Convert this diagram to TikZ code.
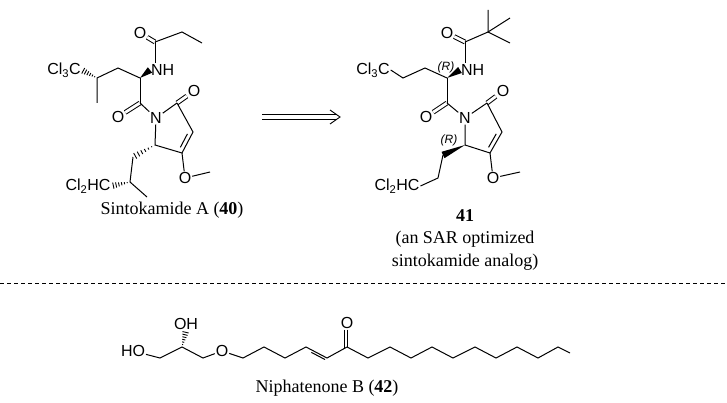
\documentclass[tikz,border=0pt]{standalone}
\usepackage{fontspec}
\setmainfont{Liberation Serif}
\newfontfamily\atomfont{Liberation Sans}
\usetikzlibrary{calc}
\tikzset{
  atom/.style={font=\atomfont\fontsize{16}{16}\selectfont,inner sep=0.8pt},
  stereo/.style={font=\atomfont\itshape\fontsize{12}{12}\selectfont,inner sep=0pt},
  molcap/.style={font=\fontsize{18}{22}\selectfont,align=center},
  bond/.style={line width=1pt},
  dbl/.style={line width=1pt,double,double distance=2.8pt}
}
\newcommand{\hashb}[2]{\foreach \t in {0.15,0.3,...,0.95}{\path ($(#1)!\t!(#2)$) coordinate (hm);\draw[line width=0.9pt] ($(hm)!{\t*3.5pt}!90:(#2)$) -- ($(hm)!{\t*3.5pt}!-90:(#2)$);}}
\newcommand{\wedgeb}[2]{\fill (#1) -- ($(#2)!3.5pt!90:(#1)$) -- ($(#2)!3.5pt!-90:(#1)$) -- cycle;}
\begin{document}
\begin{tikzpicture}[x=1pt,y=-1pt]
\useasboundingbox (0,0) rectangle (727,403);
% ===== left: sintokamide A
\node[atom] (aO1) at (140,33) {O};
\coordinate (aC1) at (155,42); \coordinate (aC2) at (182,32); \coordinate (aC3) at (202,43);
\node[atom,anchor=west] (aNH) at (150,70) {NH};
\coordinate (aCa) at (140,78); \coordinate (aCb) at (118,68); \coordinate (aCc) at (97,78); \coordinate (aMe1) at (97,103);
\node[atom] (aCl3) at (64,70) {Cl\textsubscript{3}C};
\coordinate (aCd) at (140,103);
\node[atom] (aO2) at (118,117) {O};
\node[atom] (aN) at (156,118) {N};
\coordinate (aCe) at (177,103);
\node[atom] (aO3) at (194,91) {O};
\coordinate (aCf) at (193,132); \coordinate (aCg) at (182,153); \coordinate (aCh) at (155,145);
\node[atom] (aO4) at (185,178) {O};
\coordinate (aMe2) at (210,172);
\coordinate (aCi) at (133,157); \coordinate (aCj) at (130,182); \coordinate (aMe3) at (147,197);
\node[atom] (aCl2) at (88,186) {Cl\textsubscript{2}HC};
\draw[dbl] (aO1) -- (aC1);
\draw[bond] (aC1) -- (aC2) -- (aC3);
\draw[bond] (aC1) -- (aC1 |- aNH.north);
\wedgeb{aCa}{aNH.west}
\draw[bond] (aCa) -- (aCb) -- (aCc) -- (aMe1);
\hashb{aCc}{aCl3.east}
\draw[bond] (aCa) -- (aCd);
\draw[dbl] (aCd) -- (aO2);
\draw[bond] (aCd) -- (aN) -- (aCe);
\draw[dbl] (aCe) -- (aO3);
\draw[bond] (aCe) -- (aCf) -- (aCg) -- (aCh) -- (aN);
\draw[bond] ($(aCf)!0.18!(aCg)+(-3.6,-1.9)$) -- ($(aCf)!0.82!(aCg)+(-3.6,-1.9)$);
\draw[bond] (aCg) -- (aO4) -- (aMe2);
\hashb{aCh}{aCi}
\draw[bond] (aCi) -- (aCj) -- (aMe3);
\hashb{aCj}{aCl2.east}
\node[molcap] (acap) at (172,210) {Sintokamide A (\textbf{40})};
% ===== arrow
\coordinate (arA) at (262,117); \coordinate (arB) at (336,117);
\draw[line width=0.9pt,double,double distance=4pt] (arA) -- (arB);
\draw[line width=0.9pt] (330,110) -- (340,117) -- (330,124);
% ===== right: 41
\node[atom] (bO1) at (447,33) {O};
\coordinate (bC1) at (465,42); \coordinate (bC2) at (488,32);
\coordinate (bM1) at (488,10); \coordinate (bM2) at (510,18); \coordinate (bM3) at (510,43);
\node[atom,anchor=west] (bNH) at (460,70) {NH};
\node[stereo] (bR1) at (446,67) {(R)};
\coordinate (bCa) at (447,78); \coordinate (bCb) at (425,68); \coordinate (bCc) at (403,78);
\node[atom] (bCl3) at (373,70) {Cl\textsubscript{3}C};
\coordinate (bCd) at (447,103);
\node[atom] (bO2) at (426,117) {O};
\node[atom] (bN) at (465,118) {N};
\coordinate (bCe) at (487,103);
\node[atom] (bO3) at (503,91) {O};
\coordinate (bCf) at (502,132); \coordinate (bCg) at (490,153); \coordinate (bCh) at (465,145);
\node[stereo] (bR2) at (449,140) {(R)};
\node[atom] (bO4) at (493,178) {O};
\coordinate (bMe2) at (520,172);
\coordinate (bCi) at (443,155); \coordinate (bCj) at (438,178);
\node[atom] (bCl2) at (397,186) {Cl\textsubscript{2}HC};
\draw[dbl] (bO1) -- (bC1);
\draw[bond] (bC1) -- (bC2) -- (bM1); \draw[bond] (bC2) -- (bM2); \draw[bond] (bC2) -- (bM3);
\draw[bond] (bC1) -- (bC1 |- bNH.north);
\wedgeb{bCa}{bNH.west}
\draw[bond] (bCl3.east) -- (bCc) -- (bCb) -- (bCa);
\draw[bond] (bCa) -- (bCd);
\draw[dbl] (bCd) -- (bO2);
\draw[bond] (bCd) -- (bN) -- (bCe);
\draw[dbl] (bCe) -- (bO3);
\draw[bond] (bCe) -- (bCf) -- (bCg) -- (bCh) -- (bN);
\draw[bond] ($(bCf)!0.18!(bCg)+(-3.6,-1.9)$) -- ($(bCf)!0.82!(bCg)+(-3.6,-1.9)$);
\draw[bond] (bCg) -- (bO4) -- (bMe2);
\wedgeb{bCh}{bCi}
\draw[bond] (bCi) -- (bCj) -- (bCl2.east);
\node[molcap] (bcap) at (465,240) {\textbf{41}\\(an SAR optimized\\sintokamide analog)};
% ===== dashed separator
\coordinate (dL) at (0,283); \coordinate (dR) at (727,283);
\draw[line width=0.8pt,dash pattern=on 4pt off 3pt] (dL) -- (dR);
% ===== bottom: niphatenone B
\node[atom] (cHO) at (133,351) {HO};
\coordinate (c1) at (160,358); \coordinate (c2) at (182,347);
\node[atom] (cOH) at (186,324) {OH};
\coordinate (c3) at (203,358);
\node[atom] (cO) at (222,351) {O};
\coordinate (c4) at (243,358); \coordinate (c5) at (264,347); \coordinate (c6) at (285,358);
\coordinate (c7) at (306,347); \coordinate (c8) at (327,358); \coordinate (c9) at (347,347);
\node[atom] (cOk) at (347,323) {O};
\draw[bond] (cHO) -- (c1) -- (c2) -- (c3) -- (cO) -- (c4) -- (c5) -- (c6) -- (c7) -- (c8) -- (c9);
\hashb{c2}{cOH.south}
\draw[bond] ($(c7)!0.2!(c8)+(1.2,3.2)$) -- ($(c7)!0.85!(c8)+(1.2,3.2)$);
\draw[bond] (cOk.south) -- (c9);
\draw[bond] ($(cOk.south)+(-3,0)$) -- ($(c9)+(-3,1)$);
\foreach \i/\x/\y in {10/368/358,11/390/347,12/411/358,13/432/347,14/453/358,15/475/347,16/496/358,17/517/347,18/538/358,19/558/347,20/570/353}{\coordinate (c\i) at (\x,\y);}
\draw[bond] (c9) \foreach \i in {10,...,20}{ -- (c\i)};
\node[molcap] (ccap) at (327,388) {Niphatenone B (\textbf{42})};
\end{tikzpicture}
\end{document}
